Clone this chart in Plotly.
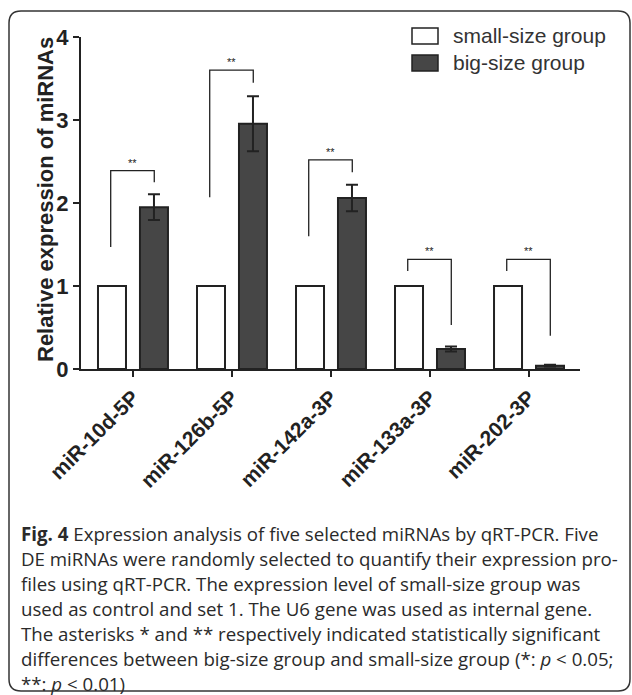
import plotly.graph_objects as go

# ---------------- data ----------------
categories = ["miR-10d-5P", "miR-126b-5P", "miR-142a-3P", "miR-133a-3P", "miR-202-3P"]
small_size = [1.0, 1.0, 1.0, 1.0, 1.0]
big_size = [1.95, 2.955, 2.06, 0.24, 0.04]
big_err = [0.155, 0.33, 0.16, 0.03, 0.01]
# significance brackets: left-leg bottom, top, right-leg bottom
br_left = [1.47, 2.07, 1.60, 1.18, 1.18]
br_top = [2.39, 3.60, 2.52, 1.32, 1.32]
br_right = [2.25, 3.45, 2.37, 0.53, 0.40]
sig = ["**", "**", "**", "**", "**"]
series_names = ["small-size group", "big-size group"]
y_ticks = [0, 1, 2, 3, 4]
y_title = "Relative expression of miRNAs"

caption_lines = [
    "<b>Fig. 4</b> Expression analysis of five selected miRNAs by qRT-PCR. Five",
    "DE miRNAs were randomly selected to quantify their expression pro-",
    "files using qRT-PCR. The expression level of small-size group was",
    "used as control and set 1. The U6 gene was used as internal gene.",
    "The asterisks * and ** respectively indicated statistically significant",
    "differences between big-size group and small-size group (*: <i>p</i> &lt; 0.05;",
    "**: <i>p</i> &lt; 0.01)",
]

# ---------------- layout geometry ----------------
W, H = 632, 695
L, R, T, B = 81, 52, 37, 326
PW, PH = W - L - R, H - T - B


def px_x(px):
    return (px - L) / PW


def px_y(py):
    return (H - B - py) / PH


DARK = "#464646"
LINE = "#222222"

fig = go.Figure()
fig.add_trace(go.Bar(
    x=categories, y=small_size, name=series_names[0],
    marker=dict(color="white", line=dict(color=LINE, width=2)),
    showlegend=False,
))
fig.add_trace(go.Bar(
    x=categories, y=big_size, name=series_names[1],
    marker=dict(color=DARK, line=dict(color=LINE, width=2)),
    error_y=dict(type="data", array=big_err, visible=True,
                 color=LINE, thickness=2, width=6),
    showlegend=False,
))

shapes = []
annotations = []
off = 0.215
for i in range(len(categories)):
    xl, xr = i - off - 0.01, i + off
    shapes.append(dict(
        type="path", xref="x", yref="y",
        path=f"M {xl},{br_left[i]} L {xl},{br_top[i]} L {xr},{br_top[i]} L {xr},{br_right[i]}",
        line=dict(color=LINE, width=1.3),
    ))
    annotations.append(dict(
        x=(xl + xr) / 2, y=br_top[i], xref="x", yref="y",
        text=sig[i], showarrow=False, yanchor="bottom", yshift=0,
        font=dict(family="Arial", size=11, color=LINE),
    ))

# manual legend
leg_boxes = [("white", 28, 44), (DARK, 55, 71)]
for (col, y0, y1), name in zip(leg_boxes, series_names):
    shapes.append(dict(
        type="rect", xref="paper", yref="paper",
        x0=px_x(412), x1=px_x(438), y0=px_y(y1), y1=px_y(y0),
        fillcolor=col, line=dict(color=LINE, width=1.5),
    ))
    annotations.append(dict(
        x=px_x(451), y=px_y((y0 + y1) / 2), xref="paper", yref="paper",
        text=name, showarrow=False, xanchor="left", yanchor="middle",
        font=dict(family="Arial", size=21, color="#333333"),
    ))

# y-axis title
annotations.append(dict(
    x=px_x(45), y=px_y(200), xref="paper", yref="paper",
    text=f"<b>{y_title}</b>", showarrow=False, textangle=-90,
    xanchor="center", yanchor="middle",
    font=dict(family="Arial", size=22, color=LINE),
))

# rounded border: straight edges + corner arcs
bx0, bx1, by0, by1, r = 9, 630, 11, 691, 12
BCOL = "#333333"
edges = [
    (bx0 + r, by0, bx1 - r, by0),
    (bx0 + r, by1, bx1 - r, by1),
    (bx0, by0 + r, bx0, by1 - r),
    (bx1, by0 + r, bx1, by1 - r),
]
for ax0, ay0, ax1, ay1 in edges:
    shapes.append(dict(type="line", xref="paper", yref="paper",
                       x0=px_x(ax0), y0=px_y(ay0), x1=px_x(ax1), y1=px_y(ay1),
                       line=dict(color=BCOL, width=1.5)))
corners = [
    ((bx0, by0 + r), (bx0, by0), (bx0 + r, by0)),
    ((bx1 - r, by0), (bx1, by0), (bx1, by0 + r)),
    ((bx1, by1 - r), (bx1, by1), (bx1 - r, by1)),
    ((bx0 + r, by1), (bx0, by1), (bx0, by1 - r)),
]
for (sx, sy), (cx, cy), (ex, ey) in corners:
    shapes.append(dict(
        type="path", xref="paper", yref="paper",
        path=f"M {px_x(sx)},{px_y(sy)} Q {px_x(cx)},{px_y(cy)} {px_x(ex)},{px_y(ey)}",
        line=dict(color=BCOL, width=1.5)))

# caption
for k, line in enumerate(caption_lines):
    annotations.append(dict(
        x=px_x(19), y=px_y(533 + 25 * k), xref="paper", yref="paper",
        text=line, showarrow=False, xanchor="left", yanchor="middle",
        font=dict(family="Open Sans", size=18.7, color="#2a2a2a"),
    ))

fig.update_layout(
    width=W, height=H,
    margin=dict(l=L, r=R, t=T, b=B, autoexpand=False),
    paper_bgcolor="white", plot_bgcolor="white",
    barmode="group", bargap=0.152, bargroupgap=0.333,
    shapes=shapes, annotations=annotations,
    font=dict(family="Arial", color=LINE),
)
fig.update_xaxes(
    range=[-0.525, 4.515], showline=True, linewidth=2, linecolor=LINE,
    ticks="outside", ticklen=6, tickwidth=2, tickcolor=LINE,
    tickangle=-45, tickfont=dict(family="Arial", size=21, color=LINE),
    tickvals=categories, ticktext=[f"<b>{c}</b>" for c in categories],
    showgrid=False, zeroline=False,
)
fig.update_yaxes(
    range=[0, 4], tickvals=y_ticks, ticktext=[f"<b>{v}</b>" for v in y_ticks],
    showline=True, linewidth=2, linecolor=LINE,
    ticks="outside", ticklen=6, tickwidth=2, tickcolor=LINE,
    tickfont=dict(family="Arial", size=22, color=LINE),
    showgrid=False, zeroline=False,
)

fig.write_html("out.html", config={"displayModeBar": False},
               post_script="document.body.style.margin='0px';document.body.style.overflow='hidden';")
